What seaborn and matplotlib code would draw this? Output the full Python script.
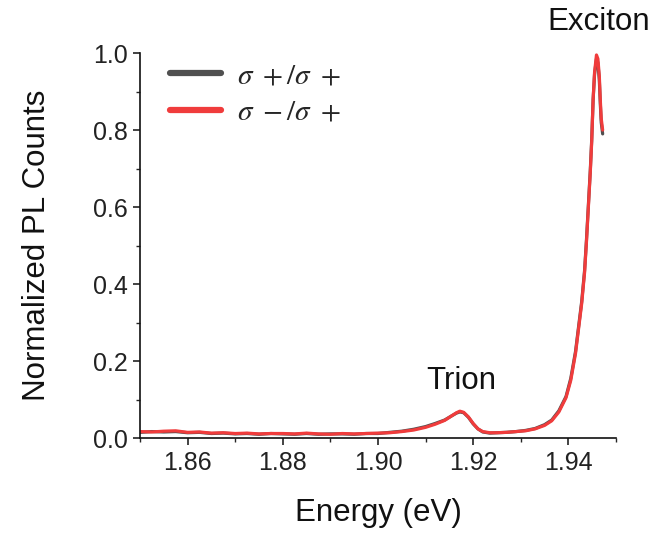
import numpy as np
import pandas as pd
import matplotlib
matplotlib.use("Agg")
import matplotlib.pyplot as plt
import seaborn as sns
from matplotlib.ticker import MultipleLocator
from matplotlib.lines import Line2D

# ---- data ----
energy = [1.8500, 1.8525, 1.8550, 1.8575, 1.8600, 1.8625, 1.8650, 1.8675, 1.8700, 1.8725,
          1.8750, 1.8775, 1.8800, 1.8825, 1.8850, 1.8875, 1.8900, 1.8925, 1.8950, 1.8975,
          1.9000, 1.9025, 1.9050, 1.9075, 1.9100, 1.9120, 1.9140, 1.9155, 1.9165, 1.9172,
          1.9180, 1.9190, 1.9200, 1.9210, 1.9220, 1.9235, 1.9250, 1.9270, 1.9290, 1.9310,
          1.9330, 1.9350, 1.9365, 1.9380, 1.9395, 1.9405, 1.9415, 1.9422, 1.9428, 1.9434,
          1.9438, 1.9442, 1.9446, 1.9449, 1.9452, 1.9455, 1.9459, 1.9462, 1.9465, 1.9467,
          1.9469, 1.9472]

counts_pp = [0.015, 0.017, 0.016, 0.017, 0.014, 0.015, 0.012, 0.013, 0.011, 0.012,
             0.010, 0.012, 0.011, 0.010, 0.012, 0.010, 0.011, 0.011, 0.010, 0.012,
             0.012, 0.015, 0.018, 0.023, 0.030, 0.038, 0.047, 0.058, 0.065, 0.068,
             0.066, 0.054, 0.037, 0.024, 0.016, 0.013, 0.014, 0.015, 0.017, 0.020,
             0.025, 0.035, 0.047, 0.071, 0.108, 0.155, 0.225, 0.295, 0.355, 0.435,
             0.515, 0.605, 0.695, 0.775, 0.880, 0.945, 0.985, 0.975, 0.930, 0.870,
             0.820, 0.790]

counts_mp = [0.017, 0.016, 0.018, 0.019, 0.015, 0.016, 0.013, 0.014, 0.012, 0.013,
             0.011, 0.012, 0.012, 0.011, 0.013, 0.011, 0.010, 0.012, 0.011, 0.012,
             0.013, 0.014, 0.017, 0.021, 0.028, 0.036, 0.046, 0.058, 0.066, 0.070,
             0.067, 0.055, 0.038, 0.024, 0.017, 0.014, 0.014, 0.015, 0.017, 0.019,
             0.024, 0.033, 0.045, 0.068, 0.105, 0.150, 0.220, 0.290, 0.350, 0.430,
             0.510, 0.600, 0.690, 0.770, 0.880, 0.950, 0.995, 0.985, 0.940, 0.880,
             0.830, 0.800]

labels = [r'$\sigma\ +/\sigma\ +$', r'$\sigma\ -/\sigma\ +$']
colors = ['#505050', '#f03c3c']

x_ticks = [1.86, 1.88, 1.90, 1.92, 1.94]
y_ticks = [0.0, 0.2, 0.4, 0.6, 0.8, 1.0]

df = pd.concat([
    pd.DataFrame({'Energy': energy, 'Counts': counts_pp, 'series': labels[0]}),
    pd.DataFrame({'Energy': energy, 'Counts': counts_mp, 'series': labels[1]}),
])

sns.set_style("ticks")
plt.rcParams['font.family'] = ['Liberation Sans', 'DejaVu Sans']
plt.rcParams['mathtext.fontset'] = 'stix'

fig = plt.figure(figsize=(6.56, 5.33), dpi=100)
ax = fig.add_axes([0.2134, 0.178, 0.7256, 0.7225])

sns.lineplot(data=df, x='Energy', y='Counts', hue='series', palette=colors,
             hue_order=labels, estimator=None, sort=False, linewidth=2.3, ax=ax,
             legend=False)

ax.set_xlim(1.85, 1.95)
ax.set_ylim(0.0, 1.0)
ax.set_xticks(x_ticks)
ax.set_xticklabels([f'{v:.2f}' for v in x_ticks])
ax.set_yticks(y_ticks)
ax.set_yticklabels([f'{v:.1f}' for v in y_ticks])
ax.xaxis.set_minor_locator(MultipleLocator(0.01))
ax.yaxis.set_minor_locator(MultipleLocator(0.1))
ax.tick_params(axis='both', which='major', direction='out', length=5, width=1.2,
               labelsize=18, colors='#222222', pad=4)
ax.tick_params(axis='both', which='minor', direction='out', length=3, width=1.0)
for s in ['top', 'right']:
    ax.spines[s].set_visible(False)
for s in ['left', 'bottom']:
    ax.spines[s].set_linewidth(1.2)
    ax.spines[s].set_color('#111111')

ax.set_xlabel('Energy (eV)', fontsize=22.5, labelpad=17, color='#111111')
ax.set_ylabel('Normalized PL Counts', fontsize=22.5, labelpad=29, color='#111111')

handles = [Line2D([], [], color=c, lw=4.5, solid_capstyle='round') for c in colors]
ax.legend(handles, labels, loc='upper left', bbox_to_anchor=(0.008, 1.047), frameon=False,
          fontsize=21, handlelength=1.75, handletextpad=0.55, labelspacing=0.3)

ax.text(1.9174, 0.148, 'Trion', fontsize=22.5, ha='center', va='center', color='#111111')
ax.text(1.9463, 1.08, 'Exciton', fontsize=22.5, ha='center', va='center', clip_on=False,
        color='#111111')

fig.savefig('out.png', dpi=100)
